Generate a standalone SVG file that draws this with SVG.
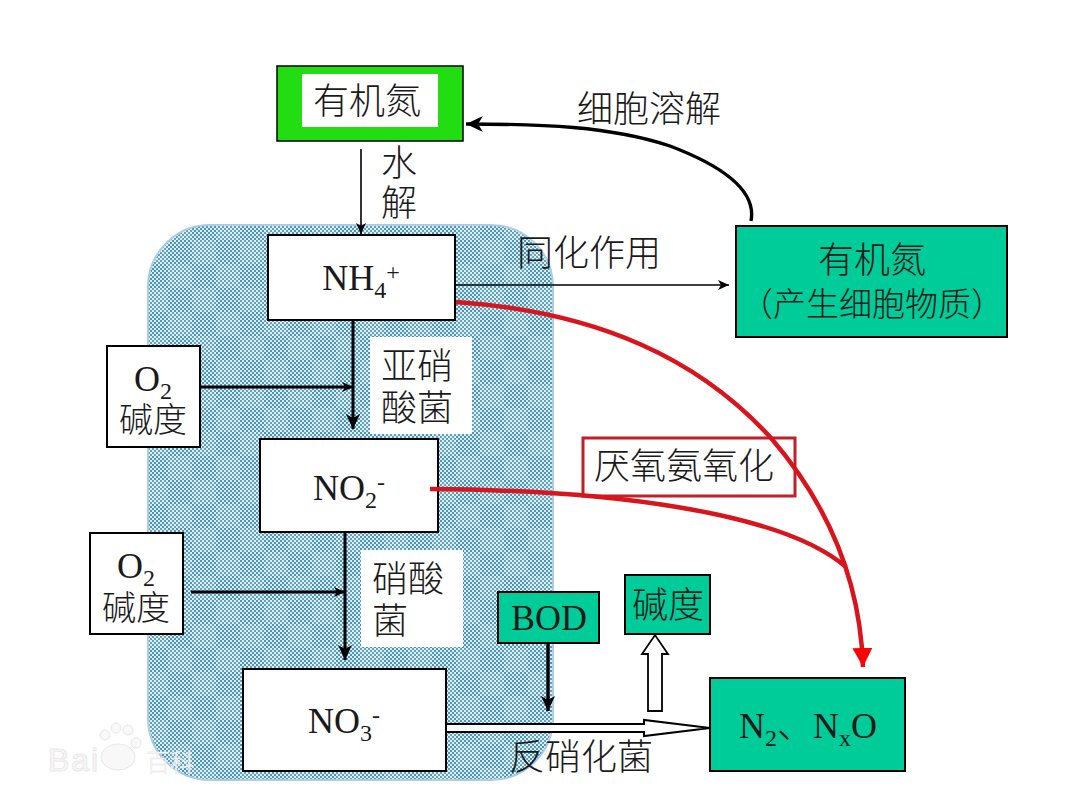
<svg xmlns="http://www.w3.org/2000/svg" width="1080" height="810" viewBox="0 0 1080 810">
<style>
text{font-family:"Liberation Serif","Noto Sans CJK SC",serif;font-size:36px;font-weight:300;fill:#1a1a1a;text-anchor:middle}
.sub{font-size:24px}
.box{fill:#fff;stroke:#000;stroke-width:2}
.grn{fill:#00cc99;stroke:#000;stroke-width:2}
.thin{fill:none;stroke:#000;stroke-width:1.6}
.thick{fill:none;stroke:#000;stroke-width:3}
.red{fill:none;stroke:#d8141c;stroke-width:4.5}
.wm{fill:#f8f8f8;stroke:#e8e8e8;stroke-width:1}
</style>
<defs>
<pattern id="chk" width="4" height="4" patternUnits="userSpaceOnUse">
<rect width="4" height="4" fill="#dcebf2"/>
<rect width="2" height="2" fill="#4a96b4"/>
<rect x="2" y="2" width="2" height="2" fill="#4a96b4"/>
</pattern>
<pattern id="tile" width="48" height="48" patternUnits="userSpaceOnUse">
<rect x="0" y="0" width="24" height="24" fill="#fff" fill-opacity=".12"/>
<rect x="24" y="24" width="24" height="24" fill="#fff" fill-opacity=".12"/>
</pattern>
<marker id="a" markerWidth="12" markerHeight="10" refX="11" refY="5" orient="auto" markerUnits="userSpaceOnUse"><path d="M0 0L11 5L0 10L3 5Z" fill="#000"/></marker>
<marker id="b" markerWidth="16" markerHeight="14" refX="15" refY="7" orient="auto" markerUnits="userSpaceOnUse"><path d="M0 0L15 7L0 14L4 7Z" fill="#000"/></marker>
<marker id="c" markerWidth="18" markerHeight="18" refX="17" refY="9" orient="auto" markerUnits="userSpaceOnUse"><path d="M0 1L17 9L0 17L5 9Z" fill="#000"/></marker>
<marker id="r" markerWidth="22" markerHeight="22" refX="19" refY="10" orient="auto" markerUnits="userSpaceOnUse"><path d="M0 0L19 10L0 20Z" fill="#f00"/></marker>
</defs>

<g id="panel">
<rect x="148" y="225" width="405" height="555" rx="62" fill="url(#chk)" stroke="#a9cbe6" stroke-width="2"/>
<rect x="148" y="225" width="405" height="555" rx="62" fill="url(#tile)"/>
</g>

<g id="watermark">
<text class="wm" x="74" y="771" style="font-family:'Liberation Sans',sans-serif;font-size:32px;letter-spacing:2px">Bai</text>
<ellipse class="wm" cx="118" cy="757" rx="17" ry="13"/>
<circle class="wm" cx="105" cy="735" r="5"/>
<circle class="wm" cx="116" cy="728" r="5"/>
<circle class="wm" cx="128" cy="730" r="5"/>
<circle class="wm" cx="136" cy="743" r="5"/>
<text class="wm" x="170" y="771" style="font-family:'Noto Sans CJK SC',sans-serif;font-size:24px;stroke-width:.5">百科</text>
</g>

<g id="connectors">
<path class="thin" d="M361 149V234" marker-end="url(#a)"/>
<path d="M751 221C757 190 720 165 670 146C610 126 540 124 466 124" fill="none" stroke="#000" stroke-width="3.4" marker-end="url(#c)"/>
<path class="thin" d="M455 285H729" marker-end="url(#a)"/>
<path class="thick" d="M353 320V429" marker-end="url(#b)"/>
<path class="thick" d="M200 387H353" marker-end="url(#a)"/>
<path class="thick" d="M345 532V660" marker-end="url(#b)"/>
<path class="thick" d="M191 592H345" marker-end="url(#a)"/>
<path d="M548 643V711" fill="none" stroke="#000" stroke-width="3.4" marker-end="url(#b)"/>
<path d="M446 724H644V720L710 728L644 736V732H446Z" fill="#fff" stroke="#000" stroke-width="2"/>
<path d="M648 711V654H642L655 635L668 654H662V711Z" fill="#fff" stroke="#000" stroke-width="1.8"/>
</g>

<g id="n-organic-top">
<rect x="277" y="66" width="186" height="75" fill="#22dd11" stroke="#000" stroke-width="1.5"/>
<rect x="302" y="74" width="136" height="53" fill="#fff"/>
<text x="367" y="114">有机氮</text>
</g>
<text x="399" y="176">水</text>
<text x="399" y="216">解</text>
<text x="649" y="122">细胞溶解</text>

<g id="n-nh4">
<rect class="box" x="268" y="235" width="187" height="85"/>
<text x="361" y="290">NH<tspan class="sub" dy="8">4</tspan><tspan class="sub" dy="-18">+</tspan></text>
</g>
<text x="589" y="266">同化作用</text>

<g id="n-organic-right">
<rect class="grn" x="736" y="226" width="271" height="111"/>
<text x="872" y="273">有机氮</text>
<text x="872" y="316" style="font-size:33px">（产生细胞物质）</text>
</g>

<g id="n-o2-1">
<rect class="box" x="107" y="346" width="93" height="101"/>
<text x="153" y="391">O<tspan class="sub" dy="8">2</tspan></text>
<text x="153" y="432" style="font-size:34px">碱度</text>
</g>
<g id="n-nitrite-bact">
<rect x="370" y="337" width="102" height="97" fill="#fff"/>
<text x="417" y="379">亚硝</text>
<text x="417" y="421">酸菌</text>
</g>
<g id="n-no2">
<rect class="box" x="260" y="439" width="178" height="93"/>
<text x="349" y="500">NO<tspan class="sub" dy="8">2</tspan><tspan class="sub" dy="-18">-</tspan></text>
</g>
<g id="n-anammox">
<rect x="583" y="438" width="212" height="58" fill="#fff" stroke="#c0202a" stroke-width="3"/>
<text x="684" y="479">厌氧氨氧化</text>
</g>
<g id="n-o2-2">
<rect class="box" x="90" y="533" width="93" height="101"/>
<text x="136" y="578">O<tspan class="sub" dy="8">2</tspan></text>
<text x="136" y="620" style="font-size:34px">碱度</text>
</g>
<g id="n-nitrate-bact">
<rect x="361" y="550" width="102" height="97" fill="#fff"/>
<text x="408" y="592">硝酸</text>
<text x="390" y="634">菌</text>
</g>
<g id="n-bod">
<rect class="grn" x="498" y="592" width="101" height="51"/>
<text x="549" y="630">BOD</text>
</g>
<g id="n-alk">
<rect class="grn" x="625" y="575" width="85" height="59"/>
<text x="668" y="618">碱度</text>
</g>
<g id="n-no3">
<rect class="box" x="243" y="669" width="203" height="102"/>
<text x="344" y="733">NO<tspan class="sub" dy="8">3</tspan><tspan class="sub" dy="-18">-</tspan></text>
</g>
<text x="581" y="770">反硝化菌</text>
<g id="n-n2">
<rect class="grn" x="710" y="678" width="195" height="93"/>
<text x="808" y="738">N<tspan class="sub" dy="8">2</tspan><tspan dy="-8">、N</tspan><tspan class="sub" dy="8">x</tspan><tspan dy="-8">O</tspan></text>
</g>

<g id="red-connectors">
<path class="red" d="M456 302C600 312 700 360 771 438C820 495 860 570 863 667" marker-end="url(#r)"/>
<path class="red" d="M430 489C600 490 780 510 846 567"/>
</g>
</svg>
